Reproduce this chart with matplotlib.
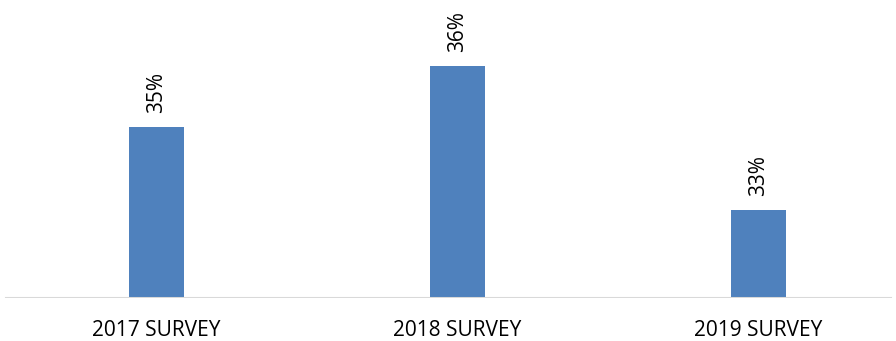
import matplotlib.pyplot as plt

categories = ['2017 SURVEY', '2018 SURVEY', '2019 SURVEY']
values = [34.8, 35.8, 33.45]
labels = ['35%', '36%', '33%']

plt.rcParams['font.family'] = ['Open Sans', 'DejaVu Sans']

fig = plt.figure(figsize=(8.96, 3.41), dpi=100)
ax = fig.add_axes([0, 43 / 341, 1, 298 / 341])

x = range(len(categories))
ax.bar(x, values, width=0.183, bottom=0, color='#4F81BD', zorder=2)
ax.set_ylim(32, 32 + 298 / 61)
ax.set_xlim(-156.5 / 301, (896 - 156.5) / 301)

for i, v in enumerate(values):
    ax.annotate(labels[i], (i, v), xytext=(0, 10), textcoords='offset points',
                rotation=90, ha='center', va='bottom', fontsize=15, color='#000000')

for s in ax.spines.values():
    s.set_visible(False)
ax.axhline(32, xmin=6 / 896, xmax=890 / 896, color='#D9D9D9', lw=2.2, zorder=3)

ax.set_yticks([])
ax.set_xticks(list(x))
ax.set_xticklabels(categories, fontsize=15, color='#000000')
ax.tick_params(axis='x', length=0, pad=16)

fig.savefig('out.png', dpi=100)
